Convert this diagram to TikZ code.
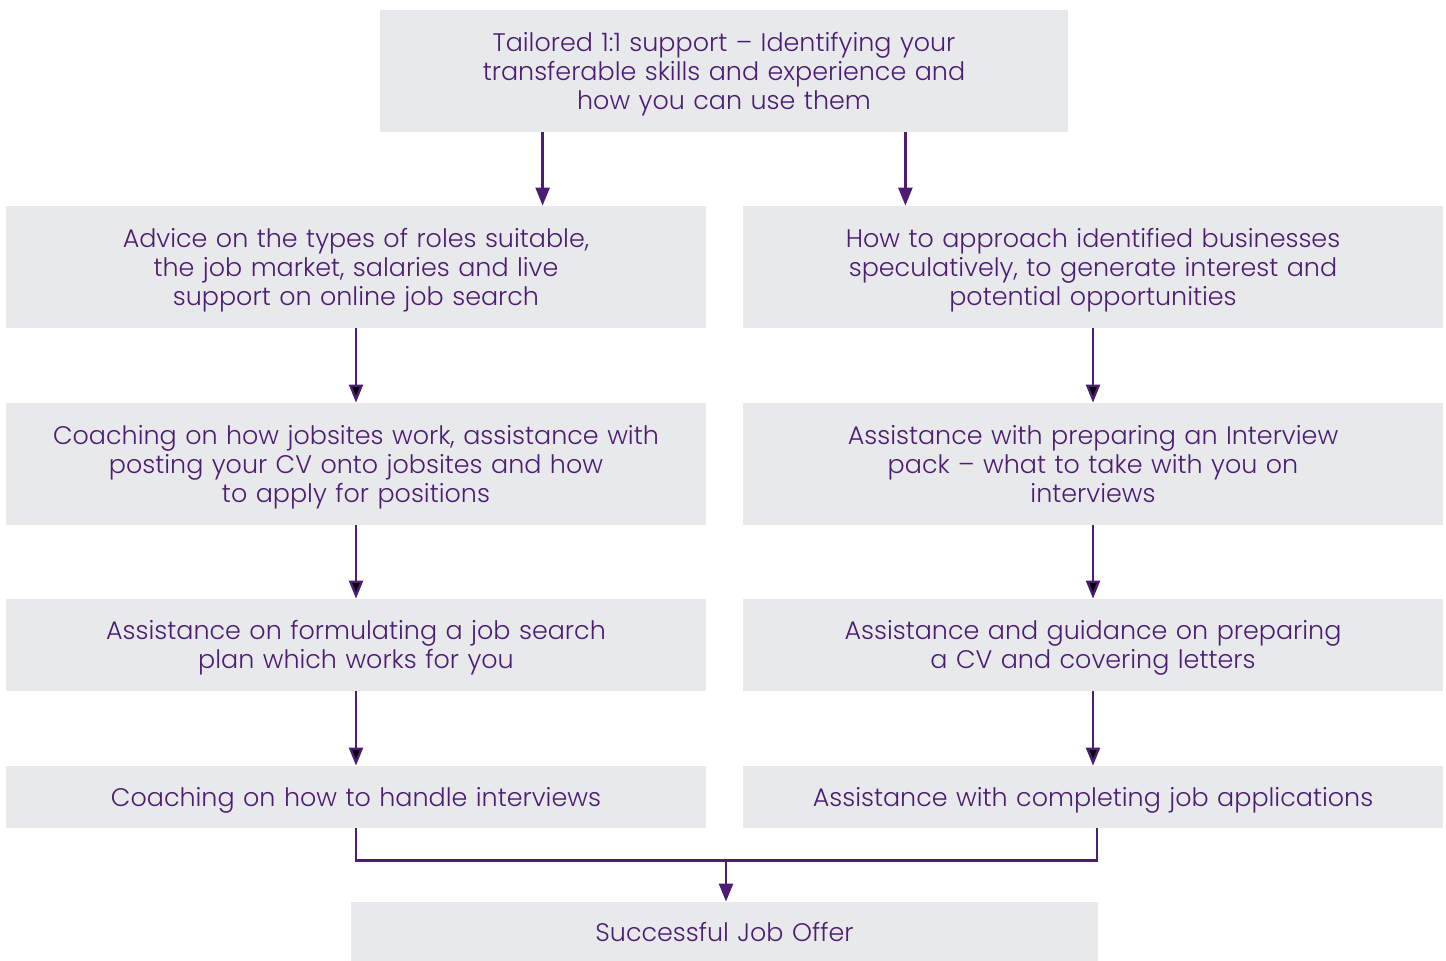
\documentclass[tikz,border=0pt]{standalone}
\usepackage{fontspec}
\IfFontExistsTF{Poppins Light}{\setmainfont{Poppins Light}}{\setmainfont{Poppins}}
\usetikzlibrary{arrows.meta}
\definecolor{boxgrey}{RGB}{232,233,235}
\definecolor{txtpurple}{RGB}{76,29,115}
\begin{document}
\begin{tikzpicture}[x=0.5pt,y=-0.5pt,
  box/.style={fill=boxgrey, text=txtpurple, align=center, inner sep=0pt,
    text width=#1, font=\fontsize{12.7}{14.5}\selectfont,
    execute at end node={\strut\endgraf\vspace*{-4pt}}},
  box/.default=350pt,
  line/.style={draw=txtpurple, line width=1.2pt},
  arr/.style={line, -{Triangle[length=9pt,width=7pt]}}]
\def\xl{356}
\def\xr{1093}
\useasboundingbox (0,0) rectangle (1446,961);
\node[box=344pt, minimum height=61pt] (support) at (724,71) {Tailored 1:1 support -- Identifying your\\ transferable skills and experience and\\ how you can use them};
\node[box, minimum height=61pt] (advice) at (\xl,267) {Advice on the types of roles suitable,\\ the job market, salaries and live\\ support on online job search};
\node[box, minimum height=61pt] (approach) at (\xr,267) {How to approach identified businesses\\ speculatively, to generate interest and\\ potential opportunities};
\node[box, minimum height=61pt] (jobsites) at (\xl,464) {Coaching on how jobsites work, assistance with\\ posting your CV onto jobsites and how\\ to apply for positions};
\node[box, minimum height=61pt] (pack) at (\xr,464) {Assistance with preparing an Interview\\ pack -- what to take with you on\\ interviews};
\node[box, minimum height=46pt] (plan) at (\xl,645) {Assistance on formulating a job search\\ plan which works for you};
\node[box, minimum height=46pt] (cv) at (\xr,645) {Assistance and guidance on preparing\\ a CV and covering letters};
\node[box, minimum height=31pt] (interviews) at (\xl,797) {Coaching on how to handle interviews};
\node[box, minimum height=31pt] (applications) at (\xr,797) {Assistance with completing job applications};
\node[box=373.5pt, minimum height=29.5pt] (offer) at (724.5,931.5) {Successful Job Offer};

% edges
\draw[arr] ([xshift=81.5pt]support.south west) -- ([xshift=81.5pt]support.south west |- advice.north); % support to advice
\draw[arr] ([xshift=-81.5pt]support.south east) -- ([xshift=-81.5pt]support.south east |- approach.north); % support to approach
\path[arr] (advice) edge (jobsites);
\path[arr] (jobsites) edge (plan);
\path[arr] (plan) edge (interviews);
\path[arr] (approach) edge (pack);
\path[arr] (pack) edge (cv);
\path[arr] (cv) edge (applications);
\draw[line] (interviews.south) -- ++(0,32) -| ([xshift=2pt]applications.south); % join
\coordinate (merge) at ([xshift=0.75pt,yshift=-16pt]offer.north |- interviews.south);
\draw[arr] (merge) -- (merge |- offer.north);
\end{tikzpicture}
\end{document}
